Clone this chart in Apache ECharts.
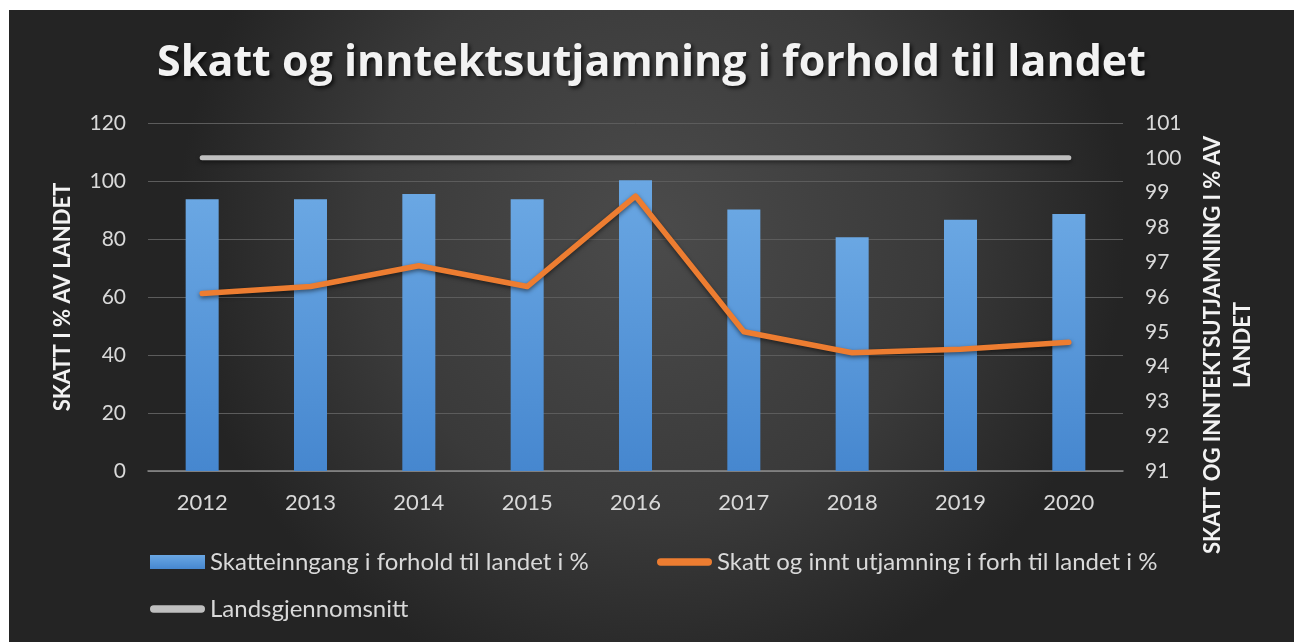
<!DOCTYPE html>
<html>
<head>
    <meta charset="utf-8">
    <title>Skatt og inntektsutjamning</title>
    <script src="https://cdn.jsdelivr.net/npm/echarts@6/dist/echarts.min.js"></script>
    <style>
        html, body { margin: 0; padding: 0; background: #fff; }
        #chart1 { position: absolute; left: 9px; top: 10px; width: 1285px; height: 632px; }
    </style>
</head>
<body>
<div id="chart1"></div>
<script type="text/javascript">
    // data
    var years = ['2012', '2013', '2014', '2015', '2016', '2017', '2018', '2019', '2020'];
    var skatteinngang = [93.7, 93.7, 95.5, 93.7, 100.3, 90.2, 80.6, 86.6, 88.6];
    var utjamning = [96.1, 96.3, 96.9, 96.3, 98.9, 95.0, 94.4, 94.5, 94.7];
    var landssnitt = [100, 100, 100, 100, 100, 100, 100, 100, 100];

    var nameBar = 'Skatteinngang i forhold til landet i %';
    var nameLine = 'Skatt og innt utjamning i forh til landet i %';
    var nameAvg = 'Landsgjennomsnitt';

    var font = 'Lato';
    var labelColor = '#d9d9d9';
    var roundLine = 'path://M4,0 L56,0 A4,4 0 0 1 56,8 L4,8 A4,4 0 0 1 4,0 Z';

    var myChart1 = echarts.init(document.getElementById('chart1'));

    function legendBox(item, icon, left, top) {
        return {
            data: [{name: item, icon: icon}],
            left: left,
            top: top,
            padding: 0,
            itemWidth: 55,
            itemHeight: 14,
            selectedMode: false,
            textStyle: {color: labelColor, fontFamily: font, fontSize: 24}
        };
    }

    myChart1.setOption({
        backgroundColor: {
            type: 'radial', x: 0.5, y: 0.35, r: 0.75,
            colorStops: [
                {offset: 0, color: '#4b4b4b'},
                {offset: 0.6, color: '#3a3a3a'},
                {offset: 1, color: '#242424'}
            ]
        },
        title: {
            text: 'Skatt og inntektsutjamning i forhold til landet',
            left: 'center',
            top: 27,
            textStyle: {
                color: '#f2f2f2',
                fontFamily: 'Open Sans',
                fontWeight: 'bold',
                fontSize: 43,
                textShadowColor: 'rgba(0,0,0,0.8)',
                textShadowBlur: 4,
                textShadowOffsetX: 2,
                textShadowOffsetY: 2
            }
        },
        legend: [
            legendBox(nameBar, 'rect', 141, 540),
            legendBox(nameLine, roundLine, 648, 540),
            legendBox(nameAvg, roundLine, 141, 587)
        ],
        grid: {left: 139, right: 171, top: 113, bottom: 171},
        xAxis: {
            type: 'category',
            data: years,
            axisTick: {show: false},
            axisLine: {lineStyle: {color: '#8c8c8c', width: 1.5}},
            axisLabel: {color: labelColor, fontFamily: font, fontSize: 22, margin: 21}
        },
        yAxis: [
            {
                type: 'value',
                min: 0, max: 120, interval: 20,
                name: 'SKATT I % AV LANDET',
                nameLocation: 'middle',
                nameGap: 74,
                nameTextStyle: {color: '#f2f2f2', fontFamily: font, fontWeight: 'bold', fontSize: 22},
                axisLabel: {color: labelColor, fontFamily: font, fontSize: 21, margin: 22},
                splitLine: {lineStyle: {color: '#5c5c5c', width: 1}}
            },
            {
                type: 'value',
                min: 91, max: 101, interval: 1,
                name: 'SKATT OG INNTEKTSUTJAMNING I % AV\nLANDET',
                nameLocation: 'middle',
                nameGap: 75,
                nameTextStyle: {color: '#f2f2f2', fontFamily: font, fontWeight: 'bold', fontSize: 22,
                    lineHeight: 30, padding: [0, 96, 0, 0]},
                axisLabel: {color: labelColor, fontFamily: font, fontSize: 21, margin: 22},
                splitLine: {show: false}
            }
        ],
        series: [
            {
                name: nameBar,
                type: 'bar',
                data: skatteinngang,
                barWidth: 33,
                itemStyle: {
                    color: {
                        type: 'linear', x: 0, y: 0, x2: 0, y2: 1,
                        colorStops: [{offset: 0, color: '#6aa7e3'}, {offset: 1, color: '#4687cf'}]
                    }
                }
            },
            {
                name: nameLine,
                type: 'line',
                yAxisIndex: 1,
                data: utjamning,
                symbol: 'none',
                color: '#ed7d31',
                lineStyle: {color: '#ed7d31', width: 5.5, cap: 'round', join: 'round',
                    shadowColor: 'rgba(0,0,0,0.5)', shadowBlur: 4, shadowOffsetY: 2}
            },
            {
                name: nameAvg,
                type: 'line',
                yAxisIndex: 1,
                data: landssnitt,
                symbol: 'none',
                color: '#bfbfbf',
                lineStyle: {color: '#bfbfbf', width: 5, cap: 'round',
                    shadowColor: 'rgba(0,0,0,0.5)', shadowBlur: 4, shadowOffsetY: 2}
            }
        ]
    });
</script>
</body>
</html>
